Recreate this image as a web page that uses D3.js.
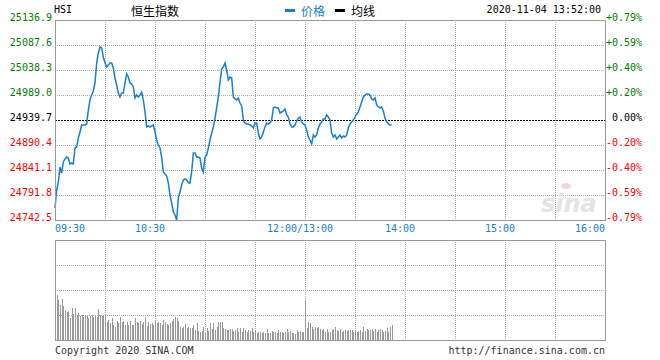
<!DOCTYPE html>
<html><head><meta charset="utf-8">
<script src="https://cdn.jsdelivr.net/npm/d3@7"></script>
<style>body{margin:0;background:#fff}svg{display:block}</style>
</head><body><svg id="c" width="660" height="360"></svg>
<script>
const symbol = "HSI";
const title = "恒生指数";
const legendLabels = ["价格", "均线"];
const timestamp = "2020-11-04 13:52:00";
const prevClose = 24939.7;
const priceTicks = [25136.9, 25087.6, 25038.3, 24989.0, 24939.7, 24890.4, 24841.1, 24791.8, 24742.5];
const pctTicks = ["+0.79%", "+0.59%", "+0.40%", "+0.20%", "0.00%", "-0.20%", "-0.40%", "-0.59%", "-0.79%"];
const timeTickMinutes = [0, 60, 150, 210, 270, 330];
const timeTickLabels = ["09:30", "10:30", "12:00/13:00", "14:00", "15:00", "16:00"];
const footerLeft = "Copyright 2020 SINA.COM";
const footerRight = "http://finance.sina.com.cn";

// price per trading minute, minute 0 = 09:30 ... minute 202 = 13:52
const prices = [
24766.2, 24801.7, 24817.4, 24847.0, 24835.2, 24856.9, 24862.8, 24866.7, 24864.8, 24852.9,
24854.9, 24852.9, 24884.5, 24886.5, 24904.2, 24916.0, 24929.8, 24929.8, 24929.8, 24931.8,
24959.4, 24979.1, 24989.0, 24996.9, 25012.7, 25052.1, 25071.8, 25083.7, 25081.7, 25063.9,
25052.1, 25044.2, 25048.2, 25052.1, 25052.1, 25042.2, 25022.5, 25008.7, 24992.9, 24985.1,
24992.9, 24992.9, 25012.7, 25030.4, 25024.5, 25012.7, 25010.7, 25004.8, 24983.1, 24989.0,
24985.1, 24989.0, 24994.9, 24979.1, 24955.5, 24925.9, 24927.9, 24925.9, 24927.9, 24929.8,
24916.0, 24900.3, 24890.4, 24884.5, 24866.7, 24837.2, 24833.2, 24829.3, 24815.5, 24791.8,
24776.0, 24758.3, 24752.4, 24742.5, 24785.9, 24797.7, 24811.5, 24821.4, 24823.4, 24821.4,
24815.5, 24815.5, 24837.2, 24874.6, 24874.6, 24866.7, 24866.7, 24864.8, 24845.0, 24837.2,
24866.7, 24870.7, 24884.5, 24900.3, 24914.1, 24925.9, 24943.6, 24963.4, 24985.1, 25014.6,
25040.3, 25044.2, 25052.1, 25038.3, 25018.6, 25024.5, 25022.5, 24985.1, 24981.1, 24979.1,
24983.1, 24973.2, 24967.3, 24939.7, 24933.8, 24931.8, 24931.8, 24929.8, 24927.9, 24923.9,
24933.8, 24933.8, 24914.1, 24902.2, 24906.2, 24916.0, 24925.9, 24933.8, 24931.8, 24933.8,
24939.7, 24963.4, 24965.3, 24963.4, 24963.4, 24953.5, 24955.5, 24957.5, 24961.4, 24949.6,
24945.6, 24931.8, 24925.9, 24925.9, 24929.8, 24937.7, 24943.6, 24945.6, 24935.8, 24931.8,
24929.8, 24920.0, 24906.2, 24900.3, 24892.4, 24910.1, 24906.2, 24910.1, 24923.9, 24931.8,
24935.8, 24941.7, 24941.7, 24949.6, 24945.6, 24939.7, 24914.1, 24906.2, 24910.1, 24902.2,
24906.2, 24910.1, 24904.2, 24908.2, 24906.2, 24910.1, 24923.9, 24931.8, 24935.8, 24939.7,
24945.6, 24951.5, 24955.5, 24965.3, 24975.2, 24985.1, 24989.0, 24991.0, 24991.0, 24989.0,
24981.1, 24979.1, 24983.1, 24969.3, 24965.3, 24963.4, 24965.3, 24957.5, 24943.6, 24935.8,
24931.8, 24929.8, 24929.8
];

// volume per minute (relative units, panel top = 100), minute 1 ... minute 202
const volumes = [
45,40,35,41,34,30,28,29,22,32,
26,32,25,27,24,25,23,25,24,22,
24,25,23,24,23,31,25,24,25,24,
18,20,17,22,15,13,19,17,23,18,
19,15,18,15,19,15,15,22,18,17,
19,16,18,23,14,18,16,17,15,19,
17,18,17,15,20,18,16,15,17,19,
21,23,22,19,13,12,13,16,12,13,
12,12,15,10,17,9,8,9,13,7,
12,9,17,11,17,10,13,18,18,18,
12,11,10,10,11,11,9,10,12,8,
12,8,12,10,8,10,9,12,8,10,
7,8,8,7,8,7,11,7,7,9,
8,8,7,10,8,8,7,8,11,8,
9,7,7,6,10,8,9,8,8,40,
12,18,17,13,11,13,12,13,11,10,
11,8,11,8,8,10,11,13,10,9,
11,8,9,10,9,10,10,10,8,10,
8,9,10,8,13,9,11,10,10,11,
9,11,8,10,11,10,8,9,12,8,
13,15
];

const BLUE = "#1580d0", GREEN = "#008000", RED = "#ff0000";
const MONO = "'DejaVu Sans Mono', monospace";
const CJK = "'Noto Sans CJK SC', sans-serif";

const svg = d3.select("#c");
svg.append("rect").attr("width", 660).attr("height", 360).attr("fill", "#fff");

const x = d3.scaleLinear().domain([0, 330]).range([55, 605]);
const y = d3.scaleLinear().domain([priceTicks[priceTicks.length - 1], priceTicks[0]]).range([220, 20]);
const yv = d3.scaleLinear().domain([0, 100]).range([340, 240]);

const gridMinutes = d3.range(30, 330, 30);
const grid = svg.append("g").attr("stroke", "#aaa").attr("stroke-dasharray", "1,1").attr("shape-rendering", "crispEdges");
// main panel grid
grid.selectAll("line.v").data(gridMinutes).join("line")
  .attr("x1", d => Math.round(x(d)) + 0.5).attr("x2", d => Math.round(x(d)) + 0.5)
  .attr("y1", 20).attr("y2", 220);
grid.selectAll("line.h").data(priceTicks.slice(1, -1).filter(v => v !== prevClose)).join("line")
  .attr("x1", 55).attr("x2", 605)
  .attr("y1", d => Math.round(y(d)) + 0.5).attr("y2", d => Math.round(y(d)) + 0.5);
// volume panel grid
const grid2 = svg.append("g").attr("stroke", "#aaa").attr("stroke-dasharray", "1,1").attr("shape-rendering", "crispEdges");
grid2.selectAll("line").data(gridMinutes).join("line")
  .attr("x1", d => Math.round(x(d)) + 0.5).attr("x2", d => Math.round(x(d)) + 0.5)
  .attr("y1", 240).attr("y2", 340);
const grid3 = svg.append("g").attr("stroke", "#aaa").attr("stroke-dasharray", "1,1").attr("shape-rendering", "crispEdges");
grid3.selectAll("line").data([25, 50, 75]).join("line")
  .attr("x1", 55).attr("x2", 605)
  .attr("y1", d => yv(d) + 0.5).attr("y2", d => yv(d) + 0.5);

// watermark
const wm = svg.append("g").attr("opacity", 0.9);
wm.append("text").attr("x", 541).attr("y", 212).attr("font-family", "'DejaVu Sans', sans-serif")
  .attr("font-size", 24).attr("font-weight", "bold").attr("font-style", "italic")
  .attr("fill", "#e2e2e2").text("sina");
wm.append("ellipse").attr("cx", 566).attr("cy", 186).attr("rx", 5).attr("ry", 3).attr("fill", "#f7cfcf");

// previous close line
svg.append("line").attr("x1", 55).attr("x2", 605)
  .attr("y1", Math.round(y(prevClose)) + 0.5).attr("y2", Math.round(y(prevClose)) + 0.5)
  .attr("stroke", "#000").attr("stroke-dasharray", "2,1").attr("shape-rendering", "crispEdges");

// volume bars
svg.append("g").attr("fill", "#999").attr("shape-rendering", "crispEdges")
  .selectAll("rect").data(volumes).join("rect")
  .attr("x", (d, i) => Math.round(x(i + 1)))
  .attr("width", 1)
  .attr("y", d => yv(d))
  .attr("height", d => 340 - yv(d));

// price line
svg.append("path").datum(prices)
  .attr("fill", "none").attr("stroke", BLUE).attr("stroke-width", 1.5)
  .attr("d", d3.line().x((d, i) => x(i)).y(d => y(d)));

// borders
svg.append("rect").attr("x", 55.5).attr("y", 20.5).attr("width", 550).attr("height", 200)
  .attr("fill", "none").attr("stroke", "#999").attr("shape-rendering", "crispEdges");
svg.append("rect").attr("x", 55.5).attr("y", 240.5).attr("width", 550).attr("height", 100)
  .attr("fill", "none").attr("stroke", "#999").attr("shape-rendering", "crispEdges");

// left price labels
const colorOf = v => v > prevClose ? GREEN : (v < prevClose ? RED : "#000");
svg.append("g").attr("font-family", MONO).attr("font-size", 10).attr("text-anchor", "end")
  .selectAll("text").data(priceTicks).join("text")
  .attr("x", 52).attr("y", d => y(d) + 1)
  .attr("fill", d => colorOf(d))
  .text(d => d.toFixed(1));
// right pct labels
svg.append("g").attr("font-family", MONO).attr("font-size", 10).attr("text-anchor", "end")
  .selectAll("text").data(pctTicks).join("text")
  .attr("x", 642).attr("y", (d, i) => y(priceTicks[i]) + 1)
  .attr("fill", (d, i) => colorOf(priceTicks[i]))
  .text(d => d);

// time labels
svg.append("g").attr("font-family", MONO).attr("font-size", 10).attr("fill", BLUE)
  .selectAll("text").data(timeTickLabels).join("text")
  .attr("x", (d, i) => i === 0 ? x(timeTickMinutes[i]) : (i === timeTickLabels.length - 1 ? x(timeTickMinutes[i]) : x(timeTickMinutes[i]) - 5))
  .attr("text-anchor", (d, i) => i === 0 ? "start" : (i === timeTickLabels.length - 1 ? "end" : "middle"))
  .attr("y", 232)
  .text(d => d);

// header
svg.append("text").attr("x", 54).attr("y", 13).attr("font-family", MONO).attr("font-size", 10)
  .attr("fill", "#000").text(symbol);
svg.append("text").attr("x", 131).attr("y", 10).attr("dominant-baseline", "central")
  .attr("font-family", CJK).attr("font-size", 12).attr("fill", "#000").text(title);
const legendColors = [BLUE, "#000"];
const lg = svg.append("g");
legendLabels.forEach((t, i) => {
  const lx = 285 + i * 50;
  lg.append("rect").attr("x", lx).attr("y", 9).attr("width", 10).attr("height", 3).attr("fill", legendColors[i]);
  lg.append("text").attr("x", lx + 16).attr("y", 10).attr("dominant-baseline", "central")
    .attr("font-family", CJK).attr("font-size", 12).attr("fill", legendColors[i]).text(t);
});
svg.append("text").attr("x", 601).attr("y", 13).attr("text-anchor", "end")
  .attr("font-family", MONO).attr("font-size", 10).attr("fill", "#000").text(timestamp);

// footer
svg.append("text").attr("x", 55).attr("y", 354).attr("font-family", MONO).attr("font-size", 10)
  .attr("fill", "#333").text(footerLeft);
svg.append("text").attr("x", 605).attr("y", 354).attr("text-anchor", "end").attr("font-family", MONO)
  .attr("font-size", 10).attr("fill", "#333").text(footerRight);
</script></body></html>
